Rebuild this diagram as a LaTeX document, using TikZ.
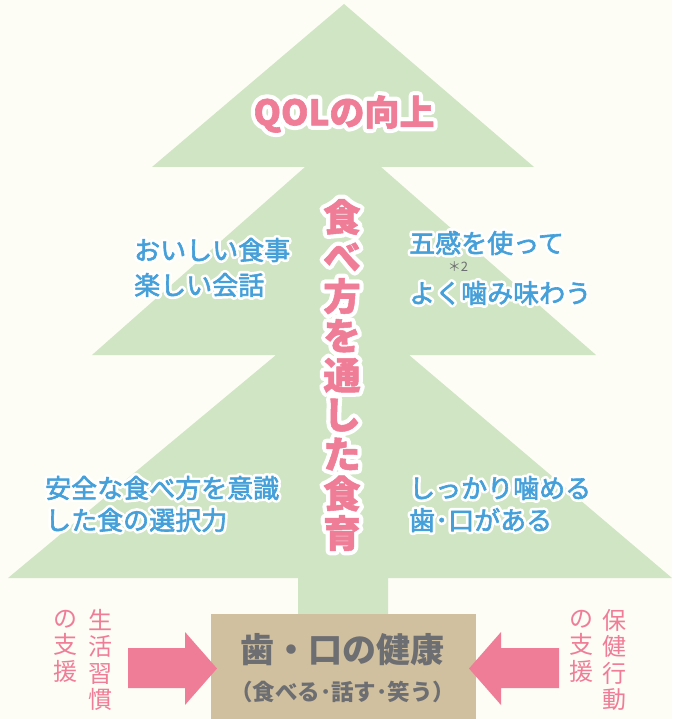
\documentclass[tikz,border=0pt]{standalone}
\usepackage{fontspec}
\setmainfont{Noto Sans CJK JP}
\definecolor{bgc}{HTML}{FDFDF6}
\definecolor{treec}{HTML}{CFE5C3}
\definecolor{pinkc}{HTML}{F07D97}
\definecolor{bluec}{HTML}{45A0DA}
\definecolor{grayc}{HTML}{6D6E71}
\definecolor{tanc}{HTML}{D1C09F}
% white outline behind the text: a stroked white copy, then the filled (slightly emboldened) text
\newcommand\outw{6}
\newcommand\fillw{0.6}
\newcommand\strokecol{0.271 0.627 0.855}
\newcommand\ow[1]{\leavevmode\rlap{\special{pdf:literal 1 1 1 RG 1 J 1 j \outw\space w 1 Tr}#1\special{pdf:literal 0 Tr 0.4 w 0 J 0 j}}%
  \special{pdf:literal \strokecol\space RG 1 j \fillw\space w 2 Tr}#1\special{pdf:literal 0 Tr 0.4 w 0 j}}
\tikzset{
  bluetext/.style={text=bluec, inner sep=0pt, anchor=west, font={\fontsize{26}{30}\selectfont\renewcommand\outw{6}\renewcommand\fillw{0.6}\renewcommand\strokecol{0.271 0.627 0.855}}},
  pinkbig/.style={text=pinkc, inner sep=0pt, font={\fontsize{37.5}{39.5}\selectfont\bfseries\renewcommand\outw{9}\renewcommand\fillw{0.5}\renewcommand\strokecol{0.941 0.490 0.592}}},
  pinkside/.style={text=pinkc, inner sep=0pt, align=center, font={\fontsize{24}{26.5}\selectfont}},
  graytext/.style={text=grayc, inner sep=0pt, font=\bfseries},
  fatarrow/.style={fill=pinkc},
}
\begin{document}
\begin{tikzpicture}[x=1pt,y=-1pt]
\fill[bgc] (0,0) rectangle (672,719);
\useasboundingbox (0,0) rectangle (672,719);
% tree
\fill[treec] (344,4) -- (534,167) -- (381,167) -- (596,355) -- (409,355) -- (672,578)
  -- (388,578) -- (388,640) -- (298,640) -- (298,578) -- (8,578) -- (276,355)
  -- (92,355) -- (305,167) -- (152,167) -- cycle;
% box
\node[fill=tanc, minimum width=265pt, minimum height=105pt, inner sep=0pt, anchor=north west] (box) at (211,614) {};
\node[graytext, font={\fontsize{34}{36}\selectfont\bfseries}] (health) at (342.5,650) {歯・口の健康};
\node[graytext, font={\fontsize{22.5}{24}\selectfont\bfseries}] (healthsub) at (342.5,692) {（食べる･話す･笑う）};
% arrows
\fill[fatarrow] (128,648) -- (185,648) -- (185,632) -- (217,668.5) -- (185,705) -- (185,688) -- (128,688) -- cycle;
\fill[fatarrow] (559,648) -- (501,648) -- (501,632) -- (469,668.5) -- (501,705) -- (501,688) -- (559,688) -- cycle;
% side texts
\node[pinkside] (lifeA) at (100,660) {生\\活\\習\\慣};
\node[pinkside] (lifeB) at (65,646) {の\\支\\援};
\node[pinkside] (hlthA) at (614,660) {保\\健\\行\\動};
\node[pinkside] (hlthB) at (581,646) {の\\支\\援};
% title
\node[pinkbig, font={\fontsize{35}{38}\selectfont\bfseries\renewcommand\outw{9}\renewcommand\fillw{0.6}\renewcommand\strokecol{0.941 0.490 0.592}}] (qol) at (344,114) {\ow{QOLの向上}};
% vertical column
\node[pinkbig, align=center] (shokuiku) at (342,375) {\ow{食}\\\ow{べ}\\\ow{方}\\\ow{を}\\\ow{通}\\\ow{し}\\\ow{た}\\\ow{食}\\\ow{育}};
% blue texts
\node[bluetext] (t1a) at (134,250) {\ow{おいしい食事}};
\node[bluetext] (t1b) at (134,285) {\ow{楽しい会話}};
\node[bluetext] (t2a) at (409,243) {\ow{五感を使って}};
\node[bluetext] (t2b) at (409,293) {\ow{よく噛み味わう}};
\node[text=grayc, inner sep=0pt, font={\fontsize{13}{14}\selectfont}] (note) at (458,267) {＊2};
\node[bluetext] (t3a) at (45,488) {\ow{安全な食べ方を意識}};
\node[bluetext] (t3b) at (45,520) {\ow{した食の選択力}};
\node[bluetext] (t4a) at (409,488) {\ow{しっかり噛める}};
\node[bluetext] (t4b) at (409,520) {\ow{歯･口がある}};
\end{tikzpicture}
\end{document}
